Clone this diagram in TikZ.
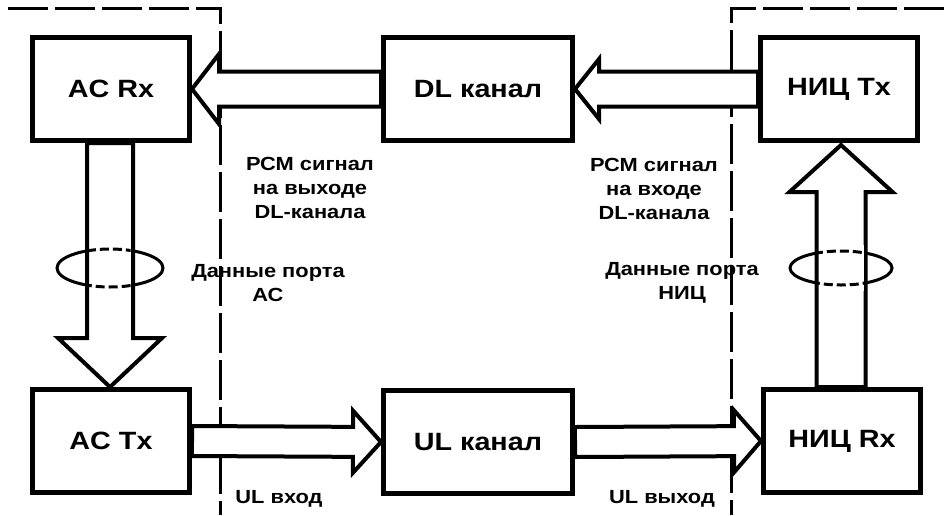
\documentclass[tikz,border=0pt]{standalone}
\usepackage{fontspec}
\setmainfont{Liberation Sans}[FakeStretch=1.15]
\usetikzlibrary{calc,shapes.geometric}
\newcommand{\fatarrow}[5]{% #1 start, #2 tip, #3 half shaft, #4 half head, #5 head length (pt)
  \coordinate (fa-h) at ($(#2)!#5pt!(#1)$);
  \draw[fatarr] ($(#1)!#3pt!90:(#2)$) -- ($(fa-h)!#3pt!90:(#2)$) -- ($(fa-h)!#4pt!90:(#2)$) -- (#2)
     -- ($(fa-h)!#4pt!-90:(#2)$) -- ($(fa-h)!#3pt!-90:(#2)$) -- ($(#1)!#3pt!-90:(#2)$) -- cycle;}
\tikzset{
  blk/.style={draw, line width=5pt, fill=white, minimum width=157pt, minimum height=103pt,
    font=\bfseries\fontsize{25}{28}\selectfont, inner sep=0pt},
  wblk/.style={blk, minimum width=189pt},
  fatarr/.style={draw, line width=4pt, fill=white, line join=miter},
  border/.style={line width=3pt, dash pattern=on 40pt off 7pt},
  lbl/.style={align=center, font=\bfseries\fontsize{19}{24}\selectfont, inner sep=0pt},
  ring/.style={line width=3pt}
}
\begin{document}
\begin{tikzpicture}[x=1pt, y=-1pt]
\useasboundingbox (0,0) rectangle (944,515);
% dashed boundaries
\coordinate (tl0) at (8,8); \coordinate (tl1) at (220,8); \coordinate (tl2) at (220,515);
\coordinate (tr0) at (944,8); \coordinate (tr1) at (731,8); \coordinate (tr2) at (731,515);
\draw[border] (tl0) -- (tl1) -- (tl2);
\draw[border] (tr0) -- (tr1) -- (tr2);
% boxes
\node[blk]  (acrx)  at (111,89)  {AC Rx};
\node[wblk] (dl)    at (478,89)  {DL канал};
\node[blk]  (nictx) at (839,89)  {НИЦ Tx};
\node[blk]  (actx)  at (111,441) {AC Tx};
\node[wblk] (ul)    at (478,442) {UL канал};
\node[blk]  (nicrx) at (842,441) {НИЦ Rx};
% fat arrows
\fatarrow{dl.west}{acrx.east}{17.5}{35}{27}
\fatarrow{nictx.west}{dl.east}{17.5}{30}{24}
\fatarrow{actx.east}{ul.west}{15}{31}{28}
\fatarrow{ul.east}{nicrx.west}{15}{31}{27}
\coordinate (dA) at (110,143); \coordinate (dB) at (110,387);
\fatarrow{dA}{dB}{23}{52}{49}
\coordinate (uA) at (841,387); \coordinate (uB) at (841,145);
\fatarrow{uA}{uB}{24.5}{51.5}{47}
% rings
\draw[ring] (110,268) ellipse [x radius=53, y radius=19];
\fill[white] (89.5,245) rectangle (130.5,291);
\begin{scope}
  \clip (89.5,245) rectangle (130.5,291);
  \draw[ring, dash pattern=on 9pt off 4pt] (110,268) ellipse [x radius=53, y radius=19];
\end{scope}
\draw[ring] (841,268) ellipse [x radius=51, y radius=17];
\fill[white] (819,245) rectangle (864,291);
\begin{scope}
  \clip (819,245) rectangle (864,291);
  \draw[ring, dash pattern=on 9pt off 4pt] (841,268) ellipse [x radius=51, y radius=17];
\end{scope}
% labels
\node[lbl] (pcmL)  at (310,188) {РСМ сигнал\\на выходе\\DL-канала};
\node[lbl] (pcmR)  at (654,189) {РСМ сигнал\\на входе\\DL-канала};
\node[lbl] (dataL) at (268,283) {Данные порта\\АС};
\node[lbl] (dataR) at (682,283) {Данные порта\\НИЦ};
\node[lbl] (ulin)  at (279,499) {UL вход};
\node[lbl] (ulout) at (662,499) {UL выход};
\end{tikzpicture}
\end{document}
